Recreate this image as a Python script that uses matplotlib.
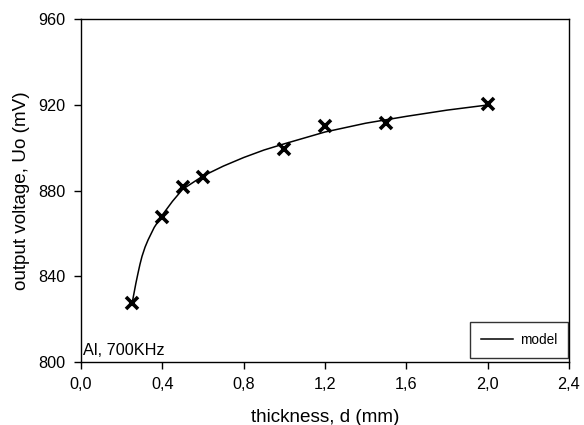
import matplotlib
matplotlib.use('Agg')
import matplotlib.pyplot as plt

# measured points
thickness = [0.25, 0.4, 0.5, 0.6, 1.0, 1.2, 1.5, 2.0]
voltage = [827.4, 867.8, 881.8, 886.4, 899.4, 910.3, 911.3, 920.3]

# model curve
model_x = [0.25, 0.255, 0.26, 0.27, 0.28, 0.29, 0.30, 0.315, 0.33, 0.36, 0.40, 0.45,
           0.50, 0.60, 0.70, 0.80, 0.90, 1.00, 1.20, 1.40, 1.60, 1.80, 2.00]
model_y = [826.5, 829.3, 831.8, 836.8, 841.3, 845.6, 849.3, 853.6, 857.0, 862.8, 868.6,
           875.0, 880.6, 886.8, 891.4, 895.4, 898.9, 901.8, 907.3, 911.4, 914.6, 917.5,
           919.9]

xticks = [0.0, 0.4, 0.8, 1.2, 1.6, 2.0, 2.4]
yticks = [800, 840, 880, 920, 960]

plt.rcParams['font.family'] = ['Liberation Sans', 'DejaVu Sans']

fig = plt.figure(figsize=(5.84, 4.25), dpi=100)
ax = fig.add_axes([0.1387, 0.148, 0.8356, 0.8073])

ax.plot(model_x, model_y, color='black', lw=1.1, label='model')
ax.plot(thickness, voltage, ls='none', marker='x', color='black',
        markersize=8.5, markeredgewidth=2.6)

ax.set_xlim(0, 2.4)
ax.set_ylim(800, 960)
ax.set_xticks(xticks)
ax.set_xticklabels(['{:.1f}'.format(t).replace('.', ',') for t in xticks])
ax.set_yticks(yticks)
ax.tick_params(direction='out', length=5, width=1, labelsize=11.7, pad=6)
for s in ax.spines.values():
    s.set_linewidth(1.0)

ax.set_xlabel('thickness, d (mm)', fontsize=13.6, labelpad=12)
ax.set_ylabel('output voltage, Uo (mV)', fontsize=13.6, labelpad=6)

ax.text(0.005, 0.012, 'Al, 700KHz', transform=ax.transAxes, fontsize=11.7,
        ha='left', va='bottom')

leg = ax.legend(loc='lower right', bbox_to_anchor=(0.998, 0.012), fontsize=9.8,
                frameon=True, fancybox=False, edgecolor='black', borderaxespad=0,
                handlelength=2.35, borderpad=0.8, handletextpad=0.5)
leg.get_frame().set_linewidth(1.0)

fig.savefig('out.png', dpi=100)
